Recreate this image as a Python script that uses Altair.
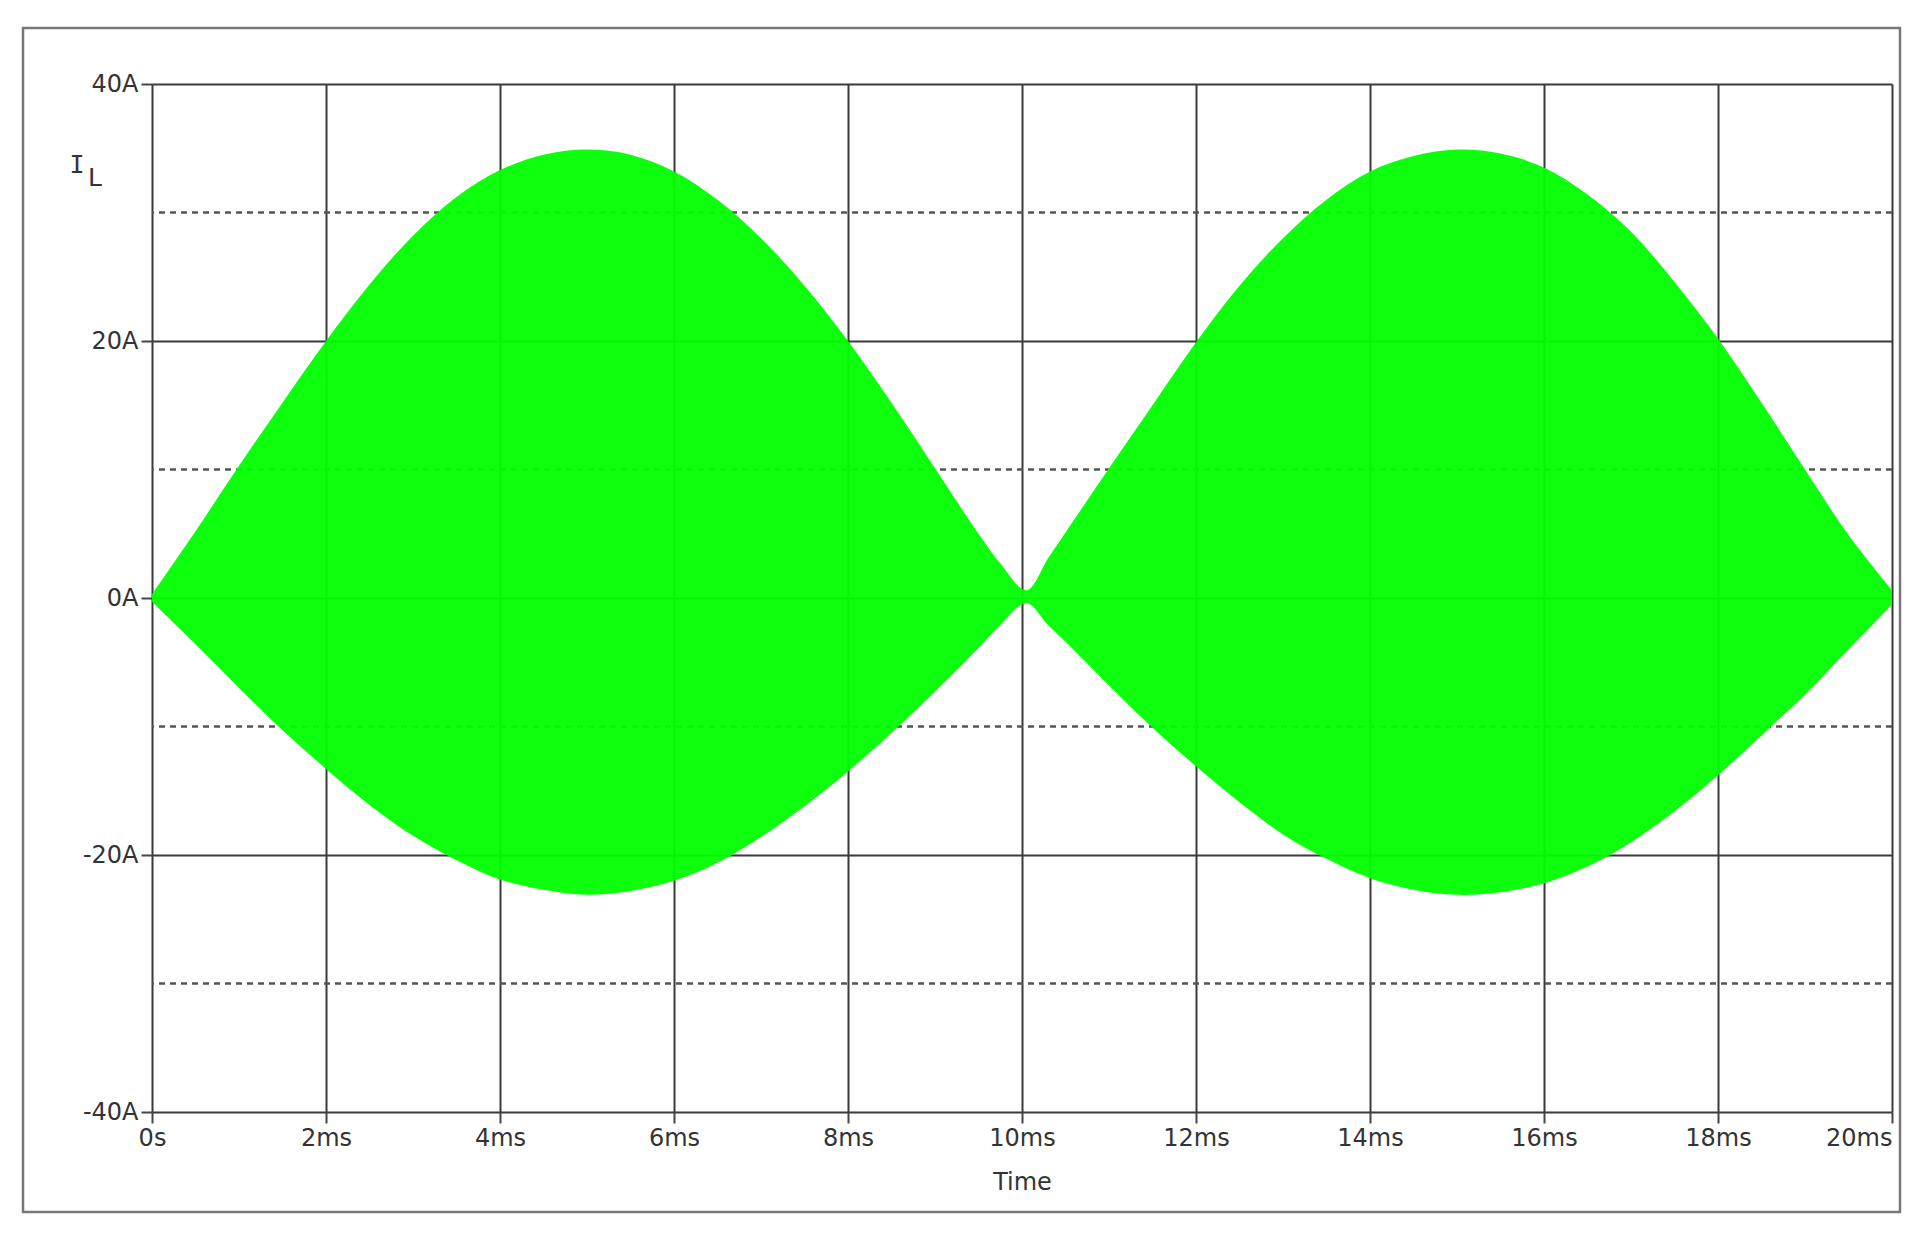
import altair as alt
import pandas as pd

# time in ms
time_ms = [0, 0.5, 1, 1.5, 2, 2.5, 3, 3.5, 4, 4.5, 5, 5.5, 6, 6.5, 7, 7.5, 8, 8.5, 9, 9.5, 9.75, 10.05, 10.3,
           10.5, 11, 11.5, 12, 12.5, 13, 13.5, 14, 14.5, 15, 15.5, 16, 16.5, 17, 17.5, 18, 18.5, 19, 19.5, 20]
# upper envelope of I_L (A)
upper_A = [0.3, 5.2, 10.3, 15.2, 20.0, 24.4, 28.2, 31.2, 33.3, 34.5, 34.9, 34.5, 33.2, 31.0, 28.0, 24.3, 20.0, 15.2, 10.1, 5.0, 2.7, 0.6, 3.1,
           5.1, 10.1, 15.0, 19.9, 24.3, 28.0, 31.0, 33.2, 34.4, 34.9, 34.6, 33.5, 31.4, 28.5, 24.6, 20.2, 15.2, 10.0, 4.9, 0.6]
# lower envelope of I_L (A)
lower_A = [-0.3, -3.6, -7.0, -10.3, -13.3, -16.1, -18.5, -20.4, -21.9, -22.7, -23.1, -22.8, -22.0, -20.6, -18.6, -16.2, -13.5, -10.5, -7.3, -3.9, -2.1, -0.4, -2.1,
           -3.4, -6.8, -10.1, -13.1, -15.9, -18.4, -20.3, -21.8, -22.7, -23.1, -22.9, -22.2, -20.9, -19.0, -16.6, -13.8, -10.7, -7.5, -4.0, -0.5]

x_ticks = [0, 2, 4, 6, 8, 10, 12, 14, 16, 18, 20]
y_ticks = [-40, -20, 0, 20, 40]
minor_grid_A = [-30, -10, 10, 30]

FONT = "DejaVu Sans"
df = pd.DataFrame({"t": time_ms, "hi": upper_A, "lo": lower_A})

xscale = alt.Scale(domain=[0, 20], nice=False, zero=False)
yscale = alt.Scale(domain=[-40, 40], nice=False)

xaxis = alt.Axis(values=x_ticks,
                 labelExpr="datum.value == 0 ? '0s' : datum.value + 'ms'",
                 labelAlign={"condition": {"test": "datum.value == 20", "value": "right"}, "value": "center"},
                 title="Time", grid=True, gridColor="#3a3a3a", gridWidth=2,
                 domain=False, tickSize=11, tickColor="#444", tickWidth=2,
                 labelFlush=False, labelOverlap=False,
                 labelFont=FONT, labelFontSize=24, labelColor="#333", labelPadding=3,
                 titleFont=FONT, titleFontSize=24, titleFontWeight="normal",
                 titleColor="#333", titlePadding=20)
yaxis = alt.Axis(values=y_ticks, labelExpr="datum.value + 'A'", title=None,
                 grid=True, gridColor="#3a3a3a", gridWidth=2,
                 domain=False, tickSize=11, tickColor="#444", tickWidth=2,
                 labelFlush=False, labelOverlap=False,
                 labelFont=FONT, labelFontSize=24, labelColor="#333", labelPadding=3)

area = alt.Chart(df).mark_area(color="#00ff00", interpolate="catmull-rom", opacity=0.95).encode(
    x=alt.X("t:Q", scale=xscale, axis=xaxis),
    y=alt.Y("hi:Q", scale=yscale, axis=yaxis),
    y2="lo:Q",
)

dotted = alt.Chart(pd.DataFrame({"v": minor_grid_A})).mark_rule(
    strokeDash=[6, 5], color="#555", strokeWidth=2.5
).encode(y=alt.Y("v:Q", scale=yscale, axis=yaxis))

frame = alt.Chart(pd.DataFrame({"a": [0]})).mark_rect(
    fillOpacity=0, stroke="#777", strokeWidth=2.5, clip=False
).encode(x=alt.value(-129), x2=alt.value(1748), y=alt.value(-56), y2=alt.value(1128))

lbl_I = alt.Chart(pd.DataFrame({"s": ["I"]})).mark_text(
    font="DejaVu Sans Mono", fontSize=25, color="#333", align="center", baseline="middle"
).encode(text="s:N", x=alt.value(-75), y=alt.value(81))
lbl_L = alt.Chart(pd.DataFrame({"s": ["L"]})).mark_text(
    font=FONT, fontSize=25, color="#333", align="center", baseline="middle"
).encode(text="s:N", x=alt.value(-57), y=alt.value(94))

chart = alt.layer(dotted, area, frame, lbl_I, lbl_L).properties(
    width=1740, height=1028,
    autosize=alt.AutoSizeParams(type="none"),
    padding={"left": 144, "top": 76, "right": 24, "bottom": 110},
    background="white",
).configure_view(stroke=None)

chart.save("out.html", embed_options={"renderer": "svg", "actions": False})
